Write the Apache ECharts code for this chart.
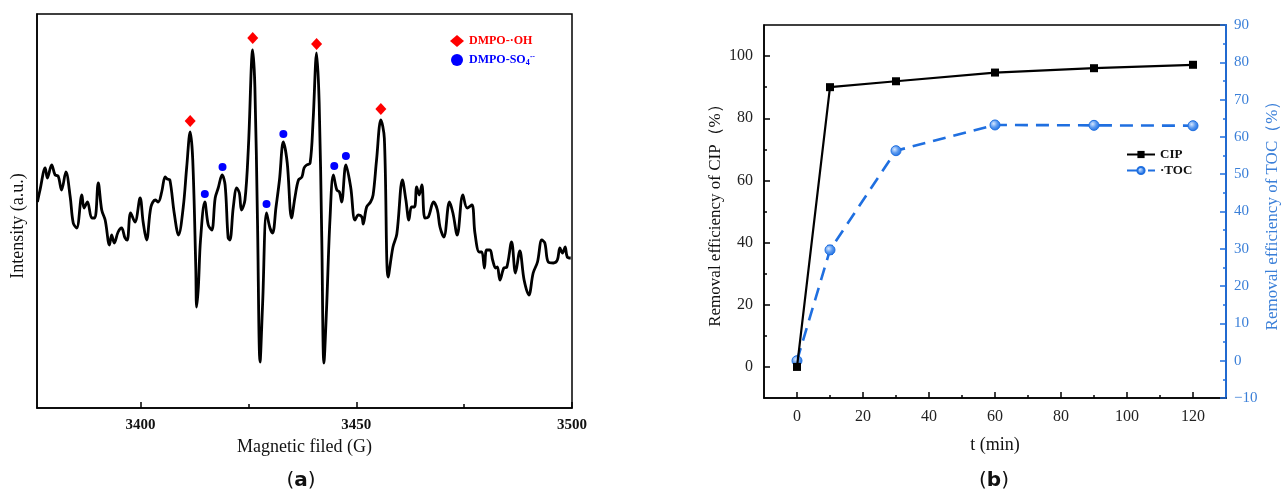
<!DOCTYPE html>
<html>
<head>
<meta charset="utf-8">
<title>EPR spectrum and removal efficiency</title>
<script src="https://cdn.jsdelivr.net/npm/echarts@6/dist/echarts.min.js"></script>
<style>
  html, body { margin: 0; padding: 0; background: #fff; }
  #chart { width: 1284px; height: 495px; }
</style>
</head>
<body>
<div id="chart"></div>
<script>
// ---- (a) EPR spectrum: magnetic field (G) vs intensity (a.u.) ----
const eprField = [
  3376.1, 3376.7, 3377.9, 3378.4, 3379.4, 3380.2, 3380.9, 3381.7, 3382.7, 3383.7,
  3384.4, 3385.2, 3386.4, 3386.9, 3387.7, 3388.7, 3389.4, 3390.2, 3391.0, 3391.8,
  3392.8, 3393.3, 3393.9, 3394.8, 3395.6, 3396.4, 3396.9, 3397.7, 3398.7, 3399.9,
  3400.6, 3401.4, 3402.4, 3403.4, 3404.1, 3404.9, 3405.7, 3406.2, 3406.8, 3407.8,
  3408.8, 3409.9, 3410.7, 3411.5, 3412.1, 3412.8, 3413.0, 3413.4, 3413.9, 3414.9,
  3415.7, 3416.5, 3417.3, 3418.0, 3418.9, 3419.6, 3420.3, 3420.7, 3421.5, 3422.3,
  3422.9, 3423.4, 3424.2, 3425.0, 3426.0, 3426.5, 3427.1, 3427.7, 3428.3, 3429.2,
  3430.0, 3430.6, 3431.4, 3432.2, 3433.1, 3434.0, 3435.0, 3435.8, 3436.6, 3437.4,
  3437.9, 3438.5, 3439.3, 3440.0, 3440.8, 3441.4, 3442.0, 3442.5, 3443.1, 3443.9,
  3444.7, 3445.5, 3446.1, 3446.6, 3447.6, 3448.7, 3449.7, 3450.5, 3451.3, 3451.6,
  3452.4, 3453.3, 3453.9, 3454.7, 3455.7, 3456.5, 3457.4, 3458.5, 3459.4, 3460.7,
  3461.5, 3462.2, 3462.8, 3463.5, 3464.0, 3464.6, 3465.2, 3465.9, 3466.7, 3467.9,
  3468.8, 3469.4, 3470.3, 3471.6, 3472.4, 3473.4, 3474.7, 3475.7, 3476.8, 3477.5,
  3478.5, 3479.1, 3479.7, 3480.2, 3481.0, 3481.6, 3482.3, 3482.7, 3483.3, 3484.2,
  3484.9, 3486.0, 3486.9, 3487.9, 3488.9, 3490.0, 3491.0, 3492.0, 3493.0, 3493.7,
  3494.5, 3495.7, 3496.6, 3497.2, 3497.8, 3498.4, 3498.9, 3499.7
];
const eprIntensity = [
  206, 218, 240, 230, 243, 233, 232, 218, 236, 211,
  185, 180, 213, 200, 206, 190, 190, 225, 198, 188,
  163, 173, 165, 176, 180, 170, 168, 195, 186, 210,
  186, 168, 201, 208, 206, 216, 231, 229, 228, 195,
  173, 201, 241, 276, 248, 141, 101, 121, 168, 206,
  183, 178, 210, 220, 233, 223, 170, 168, 201, 220,
  215, 198, 208, 261, 358, 321, 188, 46, 105, 195,
  180, 175, 201, 228, 266, 245, 190, 211, 228, 231,
  240, 243, 245, 288, 355, 305, 171, 45, 98, 188,
  233, 218, 216, 206, 243, 221, 188, 193, 191, 184,
  201, 206, 213, 248, 288, 270, 131, 161, 174, 228,
  208, 188, 201, 201, 221, 213, 223, 190, 191, 206,
  198, 181, 171, 206, 195, 173, 213, 200, 203, 175,
  156, 156, 140, 158, 158, 148, 140, 141, 128, 140,
  141, 166, 135, 157, 128, 113, 135, 146, 168, 165,
  146, 145, 148, 160, 155, 161, 151, 150
];
// Peak assignments
const ohPeaks  = [[3411.5, 287], [3426.0, 370], [3440.8, 364], [3455.7, 299]];
const so4Peaks = [[3414.9, 214], [3419.0, 241], [3429.2, 204], [3433.1, 274], [3444.9, 242], [3447.6, 252]];
const fieldTicks = [3400, 3450, 3500];
const fieldMinorTicks = [3425, 3475];

// ---- (b) Removal efficiency over time ----
const timeMin = [0, 10, 30, 60, 90, 120];
const cipRemoval = [0, 90.0, 91.9, 94.7, 96.1, 97.2];
const tocRemoval = [0, 29.7, 56.3, 63.2, 63.1, 63.0];
const tocError = [0.4, 1.2, 0.6, 0.9, 1.0, 0.9];
const timeTicks = [0, 20, 40, 60, 80, 100, 120];
const timeMinorTicks = [10, 30, 50, 70, 90, 110];
const cipTicks = [0, 20, 40, 60, 80, 100];
const cipMinorTicks = [10, 30, 50, 70, 90];

const SERIF = "'Liberation Serif', 'Times New Roman', serif";
const BLUE = '#1f6fe0';
const BLUE_TEXT = '#3a7fd8';

const chart = echarts.init(document.getElementById('chart'), null, { renderer: 'canvas' });

const tocSphere = {
  type: 'radial', x: 0.38, y: 0.38, r: 0.65,
  colorStops: [{ offset: 0, color: '#d6e7ff' }, { offset: 0.5, color: '#5d9bf0' }, { offset: 1, color: BLUE }]
};

const plain = v => String(v);

const option = {
  backgroundColor: '#fff',
  animation: false,
  grid: [
    { left: 37, top: 14, width: 535, height: 394, show: true, borderColor: '#000', borderWidth: 1.5, backgroundColor: 'transparent' },
    { left: 764, top: 25, width: 462, height: 373, show: true, borderColor: '#000', borderWidth: 1.5, backgroundColor: 'transparent' }
  ],
  legend: [
    {
      orient: 'vertical', left: 445, top: 30, itemWidth: 14, itemHeight: 12, itemGap: 6,
      data: [
        { name: 'DMPO-·OH', textStyle: { color: '#ff0000' } },
        { name: 'DMPO-SO4·-', textStyle: { color: '#0000ff' } }
      ],
      textStyle: {
        fontFamily: SERIF, fontWeight: 'bold', fontSize: 12,
        rich: {
          b: { fontFamily: SERIF, fontWeight: 'bold', fontSize: 12, color: '#0000ff' },
          sub: { fontFamily: SERIF, fontWeight: 'bold', fontSize: 8, color: '#0000ff', verticalAlign: 'bottom', padding: [6, 0, 0, 0] },
          sup: { fontFamily: SERIF, fontWeight: 'bold', fontSize: 8, color: '#0000ff', verticalAlign: 'top', padding: [0, 0, 6, 0] }
        }
      },
      formatter: function (name) {
        if (name === 'DMPO-SO4·-') return '{b|DMPO-SO}{sub|4}{sup|·-}';
        return name;
      }
    },
    {
      orient: 'vertical', left: 1121, top: 143, itemWidth: 28, itemHeight: 9, itemGap: 3,
      data: ['CIP', 'TOC'],
      textStyle: { fontFamily: SERIF, fontWeight: 'bold', fontSize: 13, color: '#111' },
      formatter: function (name) { return name === 'TOC' ? '·TOC' : name; }
    }
  ],
  xAxis: [
    {
      gridIndex: 0, type: 'value', min: 3376, max: 3500, position: 'bottom',
      name: 'Magnetic filed (G)', nameLocation: 'middle', nameGap: 30,
      nameTextStyle: { fontFamily: SERIF, fontSize: 18, color: '#111' },
      axisLine: { show: true, onZero: false, lineStyle: { color: '#000', width: 1.5 } },
      axisTick: { show: true, inside: true, length: 6, customValues: fieldTicks, lineStyle: { color: '#000', width: 1.5 } },
      axisLabel: { show: true, customValues: fieldTicks, formatter: plain, margin: 10, fontFamily: SERIF, fontWeight: 'bold', fontSize: 15, color: '#111' },
      splitLine: { show: false }
    },
    {
      gridIndex: 0, type: 'value', min: 3376, max: 3500, position: 'bottom',
      axisLine: { show: false, onZero: false },
      axisTick: { show: true, inside: true, length: 4, customValues: fieldMinorTicks, lineStyle: { color: '#000', width: 1.5 } },
      axisLabel: { show: false },
      splitLine: { show: false }
    },
    {
      gridIndex: 1, type: 'value', min: -10, max: 130, position: 'bottom',
      name: 't (min)', nameLocation: 'middle', nameGap: 38,
      nameTextStyle: { fontFamily: SERIF, fontSize: 18, color: '#111' },
      axisLine: { show: true, onZero: false, lineStyle: { color: '#000', width: 1.5 } },
      axisTick: { show: true, inside: true, length: 6, customValues: timeTicks, lineStyle: { color: '#000', width: 1.5 } },
      axisLabel: { show: true, customValues: timeTicks, formatter: plain, margin: 11, fontFamily: SERIF, fontSize: 16, color: '#222' },
      splitLine: { show: false }
    },
    {
      gridIndex: 1, type: 'value', min: -10, max: 130, position: 'bottom',
      axisLine: { show: false, onZero: false },
      axisTick: { show: true, inside: true, length: 3, customValues: timeMinorTicks, lineStyle: { color: '#000', width: 1.5 } },
      axisLabel: { show: false },
      splitLine: { show: false }
    }
  ],
  yAxis: [
    {
      gridIndex: 0, type: 'value', min: 0, max: 394, position: 'left',
      axisLine: { show: true, onZero: false, lineStyle: { color: '#000', width: 1.5 } },
      axisTick: { show: false }, axisLabel: { show: false }, splitLine: { show: false }
    },
    {
      gridIndex: 1, type: 'value', min: -10, max: 110, position: 'left',
      name: 'Removal efficiency of CIP（%）', nameLocation: 'middle', nameGap: 40, nameRotate: 90,
      nameTextStyle: { fontFamily: SERIF, fontSize: 17, color: '#111' },
      axisLine: { show: true, onZero: false, lineStyle: { color: '#000', width: 1.5 } },
      axisTick: { show: true, inside: true, length: 6, customValues: cipTicks, lineStyle: { color: '#000', width: 1.5 } },
      axisLabel: { show: true, customValues: cipTicks, formatter: plain, margin: 11, fontFamily: SERIF, fontSize: 16, color: '#222' },
      splitLine: { show: false }
    },
    {
      gridIndex: 1, type: 'value', min: -10, max: 90, interval: 10, position: 'right',
      name: 'Removal efficiency of TOC（%）', nameLocation: 'middle', nameGap: 38, nameRotate: 90,
      nameTextStyle: { fontFamily: SERIF, fontSize: 17, color: BLUE_TEXT },
      axisLine: { show: true, onZero: false, lineStyle: { color: BLUE, width: 1.8 } },
      axisTick: { show: true, inside: true, length: 6, lineStyle: { color: BLUE, width: 1.5 } },
      minorTick: { show: true, splitNumber: 2, length: 3, lineStyle: { color: BLUE, width: 1.5 } },
      axisLabel: { show: true, margin: 8, fontFamily: SERIF, fontSize: 15, color: BLUE_TEXT,
        formatter: function (v) { return v < 0 ? '\u2212' + Math.abs(v) : String(v); } },
      splitLine: { show: false }
    },
    {
      gridIndex: 1, type: 'value', min: -10, max: 110, position: 'left',
      axisLine: { show: false, onZero: false },
      axisTick: { show: true, inside: true, length: 3, customValues: cipMinorTicks, lineStyle: { color: '#000', width: 1.5 } },
      axisLabel: { show: false },
      splitLine: { show: false }
    }
  ],
  series: [
    {
      name: 'EPR', type: 'line', xAxisIndex: 0, yAxisIndex: 0,
      data: eprField.map((g, i) => [g, eprIntensity[i]]),
      showSymbol: false, smooth: 0.35,
      lineStyle: { color: '#000', width: 2.8 },
      z: 3
    },
    {
      name: 'DMPO-·OH', type: 'scatter', xAxisIndex: 0, yAxisIndex: 0,
      data: ohPeaks, symbol: 'diamond', symbolSize: [11, 12],
      itemStyle: { color: '#ff0000', opacity: 1 }, z: 4
    },
    {
      name: 'DMPO-SO4·-', type: 'scatter', xAxisIndex: 0, yAxisIndex: 0,
      data: so4Peaks, symbol: 'circle', symbolSize: 8,
      itemStyle: { color: '#0000ff', opacity: 1 }, z: 4
    },
    {
      name: 'CIP', type: 'line', xAxisIndex: 2, yAxisIndex: 1,
      data: timeMin.map((t, i) => [t, cipRemoval[i]]),
      symbol: 'rect', symbolSize: 8,
      lineStyle: { color: '#000', width: 2.2 },
      itemStyle: { color: '#000' }, z: 4
    },
    {
      name: 'TOC', type: 'line', xAxisIndex: 2, yAxisIndex: 2,
      data: timeMin.map((t, i) => [t, tocRemoval[i]]),
      symbol: 'circle', symbolSize: 10,
      lineStyle: { color: BLUE, width: 2.6, type: [13, 8] },
      itemStyle: { color: tocSphere, borderColor: BLUE, borderWidth: 1 }, z: 3
    },
    {
      name: 'TOC error', type: 'custom', xAxisIndex: 2, yAxisIndex: 2,
      data: timeMin.map((t, i) => [t, tocRemoval[i] - tocError[i], tocRemoval[i] + tocError[i]]),
      renderItem: function (params, api) {
        const lo = api.coord([api.value(0), api.value(1)]);
        const hi = api.coord([api.value(0), api.value(2)]);
        const w = 3;
        const st = { stroke: BLUE, lineWidth: 1.2 };
        return {
          type: 'group',
          children: [
            { type: 'line', shape: { x1: lo[0], y1: lo[1], x2: hi[0], y2: hi[1] }, style: st },
            { type: 'line', shape: { x1: lo[0] - w, y1: lo[1], x2: lo[0] + w, y2: lo[1] }, style: st },
            { type: 'line', shape: { x1: hi[0] - w, y1: hi[1], x2: hi[0] + w, y2: hi[1] }, style: st }
          ]
        };
      },
      z: 2
    }
  ],
  graphic: [
    {
      type: 'text', x: 18, y: 226, rotation: Math.PI / 2,
      style: { text: 'Intensity (a.u.)', fontFamily: SERIF, fontSize: 18, fill: '#111', align: 'center', verticalAlign: 'middle' }
    },
    {
      type: 'text', x: 301, y: 481,
      style: {
        text: '({b|a})', align: 'center', verticalAlign: 'middle',
        fontFamily: "'DejaVu Sans', sans-serif", fontSize: 20, fill: '#111',
        rich: { b: { fontFamily: "'DejaVu Sans', sans-serif", fontSize: 20, fontWeight: 'bold', fill: '#111' } }
      }
    },
    {
      type: 'text', x: 994, y: 481,
      style: {
        text: '({b|b})', align: 'center', verticalAlign: 'middle',
        fontFamily: "'DejaVu Sans', sans-serif", fontSize: 20, fill: '#111',
        rich: { b: { fontFamily: "'DejaVu Sans', sans-serif", fontSize: 20, fontWeight: 'bold', fill: '#111' } }
      }
    }
  ]
};

chart.setOption(option);
</script>
</body>
</html>
